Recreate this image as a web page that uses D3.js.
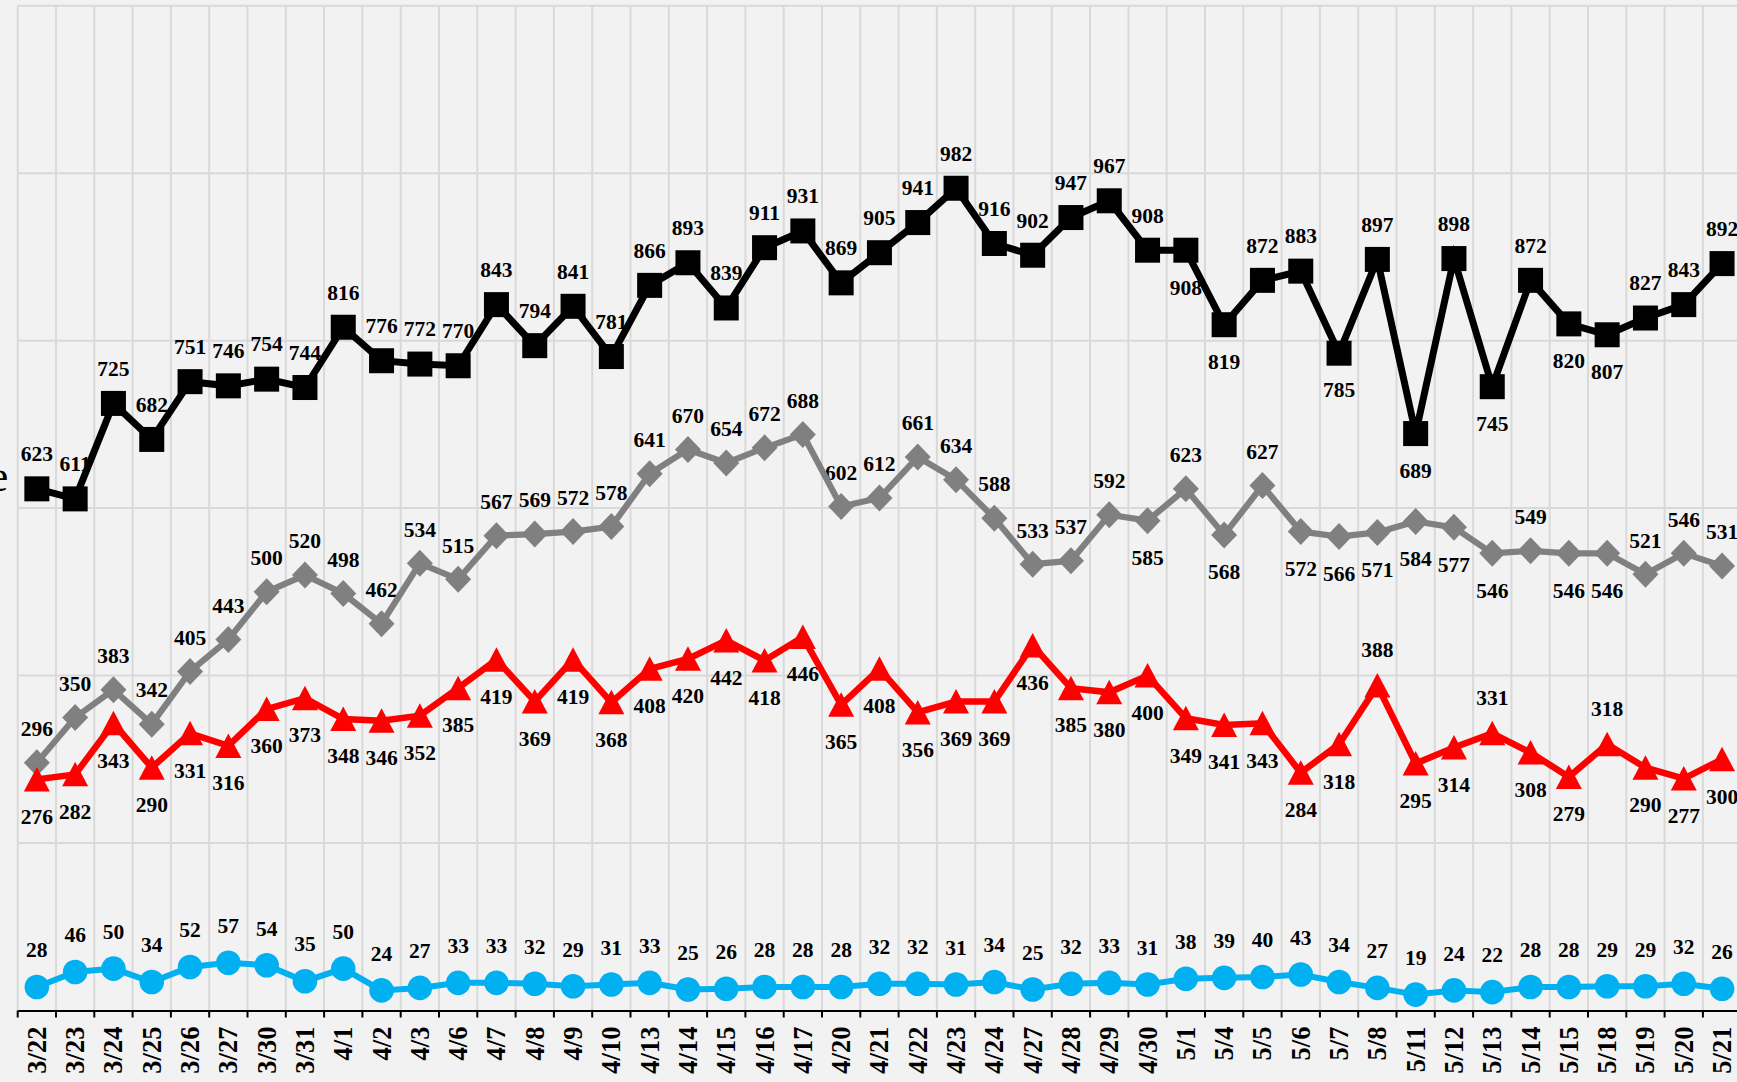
<!DOCTYPE html>
<html><head><meta charset="utf-8">
<script src="https://cdn.jsdelivr.net/npm/d3@7/dist/d3.min.js"></script>
<style>html,body{margin:0;padding:0;background:#F2F2F2;overflow:hidden}</style>
</head><body><svg id="c" width="1737" height="1082"></svg>
<script>
const categories = ["3/22","3/23","3/24","3/25","3/26","3/27","3/30","3/31","4/1","4/2","4/3","4/6","4/7","4/8","4/9","4/10","4/13","4/14","4/15","4/16","4/17","4/20","4/21","4/22","4/23","4/24","4/27","4/28","4/29","4/30","5/1","5/4","5/5","5/6","5/7","5/8","5/11","5/12","5/13","5/14","5/15","5/18","5/19","5/20","5/21"];
const blackValues = [623,611,725,682,751,746,754,744,816,776,772,770,843,794,841,781,866,893,839,911,931,869,905,941,982,916,902,947,967,908,908,819,872,883,785,897,689,898,745,872,820,807,827,843,892];
const grayValues = [296,350,383,342,405,443,500,520,498,462,534,515,567,569,572,578,641,670,654,672,688,602,612,661,634,588,533,537,592,585,623,568,627,572,566,571,584,577,546,549,546,546,521,546,531];
const redValues = [276,282,343,290,331,316,360,373,348,346,352,385,419,369,419,368,408,420,442,418,446,365,408,356,369,369,436,385,380,400,349,341,343,284,318,388,295,314,331,308,279,318,290,277,300];
const blueValues = [28,46,50,34,52,57,54,35,50,24,27,33,33,32,29,31,33,25,26,28,28,28,32,32,31,34,25,32,33,31,38,39,40,43,34,27,19,24,22,28,28,29,29,32,26];
const yTicks = [0,200,400,600,800,1000,1200];
// label placement: a = above, b = below
const blackLabelSide = "aaaaaaaaaaaaaaaaaaaaaaaaaaaaaabbaababababbaaa".split("");
const grayLabelSide  = "aaaaaaaaaaaaaaaaaaaaaaaaaaaaabababbbbbbabbaaa".split("");
const redLabelSide   = "bbbbbbbbbbbbbbbbbbbbbbbbbbbbbbbbbbbabbabbabbb".split("");
const blueLabelSide  = "aaaaaaaaaaaaaaaaaaaaaaaaaaaaaaaaaaaaaaaaaaaaa".split("");

const svg = d3.select("#c");
const left = 17.7, bandW = 38.3;
const x = d3.scaleBand().domain(categories).range([left, left + bandW*categories.length]).padding(0);
const y = d3.scaleLinear().domain([0,1200]).range([1010.5, 5.7]);
const cx = d => x(d) + x.bandwidth()/2;

// gridlines
const grid = svg.append("g");
grid.selectAll("line.h").data(yTicks.filter(t=>t>0)).join("line")
  .attr("x1", left).attr("x2", x.range()[1]).attr("y1", d=>y(d)).attr("y2", d=>y(d))
  .attr("stroke","#D9D9D9").attr("stroke-width",2);
grid.selectAll("line.v").data(categories).join("line")
  .attr("x1", d=>x(d)).attr("x2", d=>x(d)).attr("y1", y(1200)).attr("y2", y(0))
  .attr("stroke","#D9D9D9").attr("stroke-width",2);

// partial text at left edge (cut off in the reference as well)
svg.append("text").attr("x",8.2).attr("y",491).attr("text-anchor","end")
  .attr("font-family","Liberation Serif, Times New Roman, serif").attr("font-size",44)
  .attr("fill","#000").text("e");

// x axis
const axis = svg.append("g").attr("transform",`translate(0,${y(0)})`)
  .call(d3.axisBottom(x).tickSize(0).tickSizeOuter(0));
axis.select(".domain").attr("stroke","#000").attr("stroke-width",2);
axis.selectAll("text")
  .attr("transform","rotate(-90)").attr("text-anchor","end")
  .attr("x",-16).attr("y",9).attr("dy",0)
  .attr("font-family","Liberation Serif, Times New Roman, serif")
  .attr("font-weight","bold").attr("font-size",26.5).attr("fill","#000");
axis.selectAll("line.bt").data(categories).join("line").attr("class","bt")
  .attr("x1", d=>x(d)).attr("x2", d=>x(d)).attr("y1",0).attr("y2",7)
  .attr("stroke","#000").attr("stroke-width",2);

const series = [
  {vals: blackValues, side: blackLabelSide, color:"#000000", lw:7, marker:"square", up:35, down:37},
  {vals: grayValues, side: grayLabelSide, color:"#808080", lw:6.2, marker:"diamond", up:34, down:37},
  {vals: redValues, side: redLabelSide, color:"#FF0000", lw:6.5, marker:"triangle", up:36, down:37},
  {vals: blueValues, side: blueLabelSide, color:"#00B0F0", lw:6, marker:"circle", up:37, down:37},
];

// labels (drawn beneath lines)
const lab = svg.append("g")
  .attr("font-family","Liberation Serif, Times New Roman, serif")
  .attr("font-weight","bold").attr("font-size",21.5).attr("fill","#000").attr("text-anchor","middle");
series.forEach(s=>{
  lab.append("g").selectAll("text").data(s.vals).join("text")
    .attr("x",(d,i)=>cx(categories[i]))
    .attr("y",(d,i)=> (s.side[i]==="a" ? y(d)-s.up : y(d)+s.down) + 7.3)
    .text(d=>d);
});

// lines and markers
const line = d3.line().x((d,i)=>cx(categories[i])).y(d=>y(d));
series.forEach(s=>{
  const g = svg.append("g");
  g.append("path").datum(s.vals).attr("d",line).attr("fill","none")
    .attr("stroke",s.color).attr("stroke-width",s.lw).attr("stroke-linejoin","miter");
  const m = g.selectAll(".m").data(s.vals).join("g")
    .attr("transform",(d,i)=>`translate(${cx(categories[i])},${y(d)})`);
  if (s.marker==="square") m.append("rect").attr("x",-12.5).attr("y",-12.5).attr("width",25).attr("height",25).attr("fill",s.color);
  if (s.marker==="diamond") m.append("path").attr("d","M0,-13.5L13,0L0,13.5L-13,0Z").attr("fill",s.color);
  if (s.marker==="triangle") m.append("path").attr("d","M0,-12.5L13,12L-13,12Z").attr("fill",s.color);
  if (s.marker==="circle") m.append("circle").attr("r",12.3).attr("fill",s.color);
});
</script></body></html>
